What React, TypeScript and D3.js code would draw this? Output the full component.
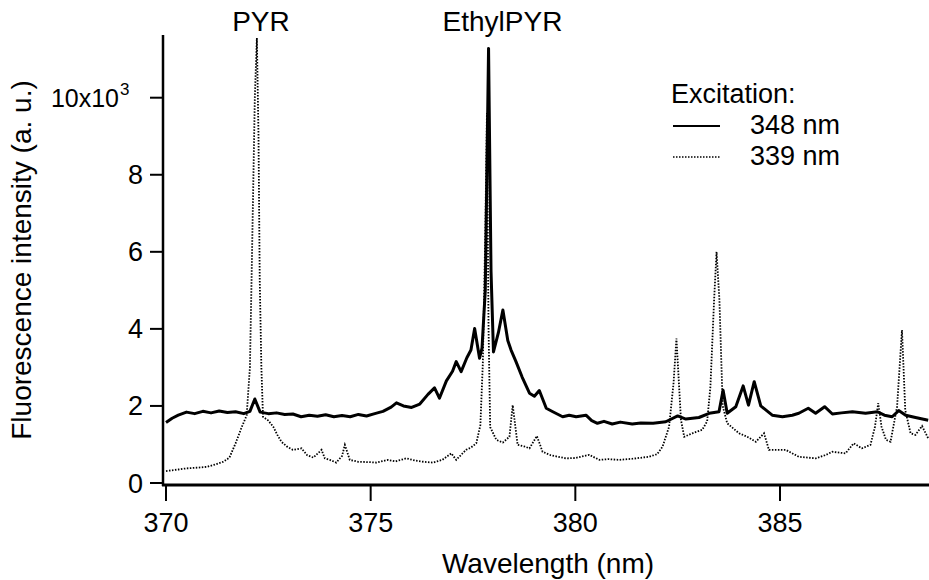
import React, { useEffect } from "react";
import * as d3 from "d3";

// Wavelength (nm) / intensity (x10^3 a.u.) — excitation 348 nm (solid)
const exc348Wavelength = [
  370.0, 370.15, 370.3, 370.5, 370.7, 370.9, 371.1, 371.3, 371.5, 371.7, 371.9, 372.05, 372.17, 372.3,
  372.5, 372.7, 372.9, 373.1, 373.3, 373.5, 373.7, 373.9, 374.1, 374.3, 374.5, 374.7, 374.9, 375.1,
  375.3, 375.5, 375.63, 375.8, 376.0, 376.2, 376.4, 376.56, 376.68, 376.85, 377.0, 377.09, 377.21,
  377.35, 377.45, 377.54, 377.66, 377.72, 377.8, 377.88, 377.94, 378.0, 378.12, 378.23, 378.35,
  378.43, 378.55, 378.7, 378.88, 379.0, 379.12, 379.29, 379.45, 379.69, 379.85, 380.02, 380.26,
  380.4, 380.54, 380.7, 380.9, 381.1, 381.39, 381.6, 381.9, 382.21, 382.5, 382.7, 383.02, 383.27,
  383.51, 383.61, 383.71, 383.92, 384.1, 384.23, 384.37, 384.53, 384.81, 385.06, 385.3, 385.46,
  385.69, 385.87, 386.09, 386.28, 386.5, 386.77, 387.09, 387.38, 387.55, 387.74, 387.9, 388.07,
  388.31, 388.62,
];
const exc348Intensity = [
  1.57, 1.68, 1.76, 1.84, 1.8, 1.86, 1.82, 1.87, 1.83, 1.85, 1.8, 1.86, 2.18, 1.84,
  1.8, 1.82, 1.78, 1.79, 1.72, 1.76, 1.73, 1.77, 1.72, 1.75, 1.72, 1.78, 1.74, 1.8,
  1.86, 1.97, 2.08, 2.0, 1.96, 2.05, 2.3, 2.47, 2.2, 2.65, 2.9, 3.15, 2.89,
  3.25, 3.45, 4.01, 3.24, 3.5, 5.0, 11.28, 5.5, 3.4, 3.9, 4.49, 3.7,
  3.45, 3.15, 2.75, 2.33, 2.25, 2.4, 1.94, 1.85, 1.72, 1.76, 1.72, 1.76,
  1.62, 1.55, 1.6, 1.53, 1.58, 1.53, 1.56, 1.55, 1.59, 1.74, 1.66, 1.7, 1.81,
  1.85, 2.41, 1.81, 1.98, 2.52, 2.02, 2.63, 2.0, 1.76, 1.72, 1.76, 1.81,
  1.94, 1.81, 1.98, 1.79, 1.82, 1.85, 1.81, 1.85, 1.76, 1.72, 1.88, 1.76,
  1.7, 1.63,
];

// excitation 339 nm (dotted)
const exc339Wavelength = [
  370.0, 370.3, 370.5, 370.8, 371.0, 371.2, 371.4, 371.55, 371.7, 371.85, 371.97, 372.05, 372.09,
  372.17, 372.22, 372.26, 372.29, 372.33, 372.37, 372.5, 372.62, 372.72, 372.82, 372.95, 373.1,
  373.31, 373.45, 373.6, 373.8, 373.88, 374.0, 374.16, 374.3, 374.37, 374.49, 374.7, 375.0, 375.14,
  375.42, 375.6, 375.87, 376.1, 376.3, 376.52, 376.75, 376.97, 377.09, 377.2, 377.33, 377.45,
  377.58, 377.68, 377.74, 377.8, 377.84, 377.88, 377.92, 378.07, 378.23, 378.39, 378.47, 378.59,
  378.75, 378.88, 379.06, 379.2, 379.4, 379.77, 380.0, 380.34, 380.59, 380.8, 381.07, 381.4,
  381.8, 382.0, 382.13, 382.29, 382.4, 382.47, 382.53, 382.58, 382.66, 382.86, 383.1, 383.22,
  383.3, 383.39, 383.45, 383.52, 383.6, 383.71, 384.0, 384.2, 384.41, 384.61, 384.73, 385.14,
  385.46, 385.87, 386.1, 386.28, 386.6, 386.8, 387.0, 387.21, 387.32, 387.4, 387.48, 387.59,
  387.7, 387.86, 387.98, 388.06, 388.19, 388.31, 388.47, 388.62,
];
const exc339Intensity = [
  0.31, 0.35, 0.38, 0.4, 0.42, 0.48, 0.55, 0.66, 1.03, 1.45, 1.75, 3.0, 5.27,
  10.0, 11.55, 9.0, 5.27, 3.0, 1.72, 1.62, 1.46, 1.25, 1.07, 0.95, 0.86,
  0.9, 0.72, 0.66, 0.86, 0.64, 0.6, 0.53, 0.7, 0.99, 0.6, 0.55, 0.54, 0.53,
  0.6, 0.56, 0.64, 0.58, 0.55, 0.53, 0.6, 0.77, 0.6, 0.72, 0.86, 0.92,
  1.03, 1.5, 3.1, 6.5, 9.6, 4.0, 1.45, 1.12, 1.05, 1.2, 2.02, 0.99,
  0.95, 0.9, 1.22, 0.81, 0.72, 0.64, 0.65, 0.73, 0.6, 0.62, 0.6, 0.63,
  0.68, 0.75, 0.94, 1.46, 2.6, 3.75, 2.6, 1.64, 1.2, 1.29, 1.38, 1.6,
  2.5, 4.75, 6.0, 4.75, 2.0, 1.55, 1.29, 1.2, 1.07, 1.29, 0.86, 0.86,
  0.68, 0.64, 0.72, 0.81, 0.77, 1.03, 0.9, 0.99, 1.46, 2.07, 1.46, 1.12,
  1.07, 1.98, 3.97, 1.89, 1.29, 1.25, 1.48, 1.16,
];

const xTicks = [370, 375, 380, 385];
const yTicks = [0, 2, 4, 6, 8];
const yTopTick = 10;
const legendEntries = ["348 nm", "339 nm"];
const peakLabels = [
  { text: "PYR", at: 372.32 },
  { text: "EthylPYR", at: 378.22 },
];

const FONT = "'Liberation Sans', Arial, Helvetica, sans-serif";

export default function App() {
  useEffect(() => {
    document.body.style.margin = "0";
  }, []);

  const W = 929;
  const H = 580;
  const x = d3.scaleLinear().domain([370, 385]).range([166, 780]);
  const y = d3.scaleLinear().domain([0, 10]).range([483, 97.7]);

  const line = d3
    .line<[number, number]>()
    .x((d) => x(d[0]))
    .y((d) => y(d[1]));

  const s348: [number, number][] = exc348Wavelength.map((w, i) => [w, exc348Intensity[i]]);
  const s339: [number, number][] = exc339Wavelength.map((w, i) => [w, exc339Intensity[i]]);

  const axisX = 163;
  const axisY = 485;

  return (
    <svg width={W} height={H} style={{ display: "block", background: "#fff" }} fontFamily={FONT}>
      <defs>
        <clipPath id="plotClip">
          <rect x={axisX} y={0} width={W - axisX} height={axisY} />
        </clipPath>
      </defs>

      <g clipPath="url(#plotClip)">
        <path d={line(s339) || ""} fill="none" stroke="#000" strokeWidth={1.8} strokeDasharray="1.5 1.5" />
        <path d={line(s348) || ""} fill="none" stroke="#000" strokeWidth={3} strokeLinejoin="round" />
      </g>

      {/* axes */}
      <line x1={axisX} x2={axisX} y1={35} y2={axisY + 1} stroke="#000" strokeWidth={2.5} />
      <line x1={axisX - 1} x2={W} y1={axisY} y2={axisY} stroke="#000" strokeWidth={3} />

      {xTicks.map((t) => (
        <g key={"xt" + t}>
          <line x1={x(t)} x2={x(t)} y1={axisY} y2={501} stroke="#000" strokeWidth={2} />
          <text x={x(t)} y={532} fontSize={27} textAnchor="middle" fill="#000">
            {t}
          </text>
        </g>
      ))}
      {yTicks.concat([yTopTick]).map((t) => (
        <line key={"yt" + t} x1={150} x2={axisX} y1={y(t)} y2={y(t)} stroke="#000" strokeWidth={2} />
      ))}
      {yTicks.map((t) => (
        <text key={"yl" + t} x={143} y={y(t) + 9.5} fontSize={27} textAnchor="end" fill="#000">
          {t}
        </text>
      ))}
      <text x={119} y={y(yTopTick) + 9} fontSize={25} textAnchor="end" fill="#000">
        10x10
      </text>
      <text x={120} y={y(yTopTick) - 3} fontSize={17} textAnchor="start" fill="#000">
        3
      </text>

      {/* axis titles */}
      <text x={548} y={573} fontSize={28} textAnchor="middle" fill="#000">
        Wavelength (nm)
      </text>
      <text transform={`translate(31,260) rotate(-90)`} fontSize={28} textAnchor="middle" fill="#000">
        Fluorescence intensity (a. u.)
      </text>

      {/* peak labels */}
      {peakLabels.map((p) => (
        <text key={p.text} x={x(p.at)} y={31} fontSize={28} textAnchor="middle" fill="#000">
          {p.text}
        </text>
      ))}

      {/* legend */}
      <text x={671} y={103} fontSize={27} fill="#000">
        Excitation:
      </text>
      <line x1={673} x2={720} y1={126} y2={126} stroke="#000" strokeWidth={2.2} />
      <text x={750} y={134} fontSize={27} fill="#000">
        {legendEntries[0]}
      </text>
      <line x1={673} x2={720} y1={157} y2={157} stroke="#000" strokeWidth={1.4} strokeDasharray="1.5 1.5" />
      <text x={750} y={165} fontSize={27} fill="#000">
        {legendEntries[1]}
      </text>
    </svg>
  );
}
